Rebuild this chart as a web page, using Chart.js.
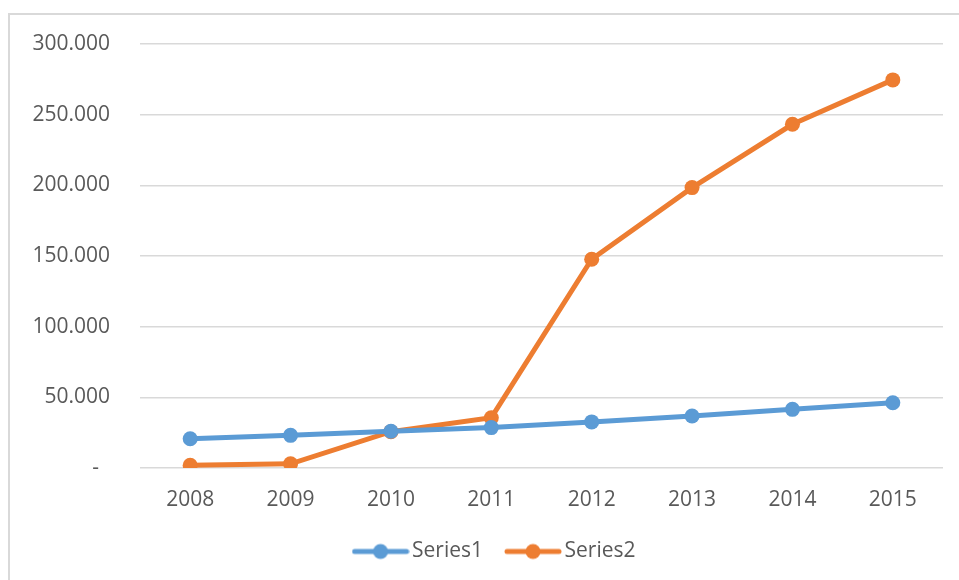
<!DOCTYPE html>
<html>
<head>
<meta charset="utf-8">
<script src="https://cdn.jsdelivr.net/npm/chart.js@4"></script>
<style>
  html, body { margin: 0; padding: 0; background: #fff; overflow: hidden; }
  #frame { position: absolute; left: 8px; top: 13px; width: 1000px; height: 700px;
           border-top: 2px solid #d9d9d9; border-left: 2px solid #d9d9d9; }
  #wrap { position: absolute; left: 0; top: 0; width: 959px; height: 580px; }
</style>
</head>
<body>
<div id="frame"></div>
<div id="wrap"><canvas id="myChart"></canvas></div>
<script>
const years = ["2008", "2009", "2010", "2011", "2012", "2013", "2014", "2015"];
const series1 = [20700, 23100, 26000, 28600, 32600, 36800, 41500, 46200];
const series2 = [1900, 3000, 25700, 35600, 147700, 198400, 243200, 274600];
const yTicks = [0, 50000, 100000, 150000, 200000, 250000, 300000];

const blue = "#5B9BD5";
const orange = "#ED7D31";
const textColor = "#595959";

// little line-with-dot images for the legend
function legendMark(color) {
  const c = document.createElement("canvas");
  c.width = 58;
  c.height = 18;
  const g = c.getContext("2d");
  g.strokeStyle = color;
  g.lineWidth = 5;
  g.lineCap = "round";
  g.beginPath();
  g.moveTo(3, 9);
  g.lineTo(55, 9);
  g.stroke();
  g.fillStyle = color;
  g.beginPath();
  g.arc(29, 9, 7.5, 0, Math.PI * 2);
  g.fill();
  return c;
}

function fmt(v) {
  if (v === 0) return "-  ";
  const s = String(Math.round(v));
  return s.replace(/\B(?=(\d{3})+(?!\d))/g, ".");
}

// nudge the legend to the right, like the original
const legendShift = {
  id: "legendShift",
  afterLayout(c) {
    c.legend.left += 26;
    c.legend.right += 26;
  },
};

Chart.defaults.font.family = "'Open Sans', sans-serif";
Chart.defaults.font.size = 21;
Chart.defaults.color = textColor;

const ctx = document.getElementById("myChart").getContext("2d");
const chart = new Chart(ctx, {
  type: "line",
  data: {
    labels: years,
    datasets: [
      {
        label: "Series1",
        data: series1,
        borderColor: blue,
        backgroundColor: blue,
        borderWidth: 5,
        pointRadius: 7.5,
        pointHoverRadius: 7.5,
        pointBorderWidth: 0,
        pointStyle: "circle",
        tension: 0,
        fill: false,
      },
      {
        label: "Series2",
        data: series2,
        borderColor: orange,
        backgroundColor: orange,
        borderWidth: 5,
        pointRadius: 7.5,
        pointHoverRadius: 7.5,
        pointBorderWidth: 0,
        pointStyle: "circle",
        tension: 0,
        fill: false,
      },
    ],
  },
  plugins: [legendShift],
  options: {
    responsive: true,
    maintainAspectRatio: false,
    animation: false,
    layout: { padding: { left: 0, right: 16, top: 44, bottom: 8 } },
    plugins: {
      tooltip: { enabled: false },
      legend: {
        position: "bottom",
        labels: {
          usePointStyle: true,
          pointStyleWidth: 42,
          padding: 29,
          color: textColor,
          generateLabels: (c) =>
            c.data.datasets.map((ds, i) => ({
              text: ds.label,
              fillStyle: ds.borderColor,
              strokeStyle: ds.borderColor,
              lineWidth: 0,
              pointStyle: legendMark(ds.borderColor),
              hidden: false,
              datasetIndex: i,
              fontColor: textColor,
            })),
        },
      },
    },
    scales: {
      x: {
        offset: true,
        grid: { display: false, drawTicks: false },
        border: { display: false },
        ticks: { padding: 19, color: textColor, maxRotation: 0 },
        afterFit: (s) => { s.height = 44; },
      },
      y: {
        min: 0,
        max: 300000,
        afterBuildTicks: (s) => { s.ticks = yTicks.map((v) => ({ value: v })); },
        grid: { color: "#d9d9d9", lineWidth: 1.5, drawTicks: false },
        border: { display: false },
        ticks: { padding: 30, color: textColor, callback: (v) => fmt(v) },
        afterFit: (s) => { s.width = 140; },
      },
    },
  },
});
</script>
</body>
</html>
